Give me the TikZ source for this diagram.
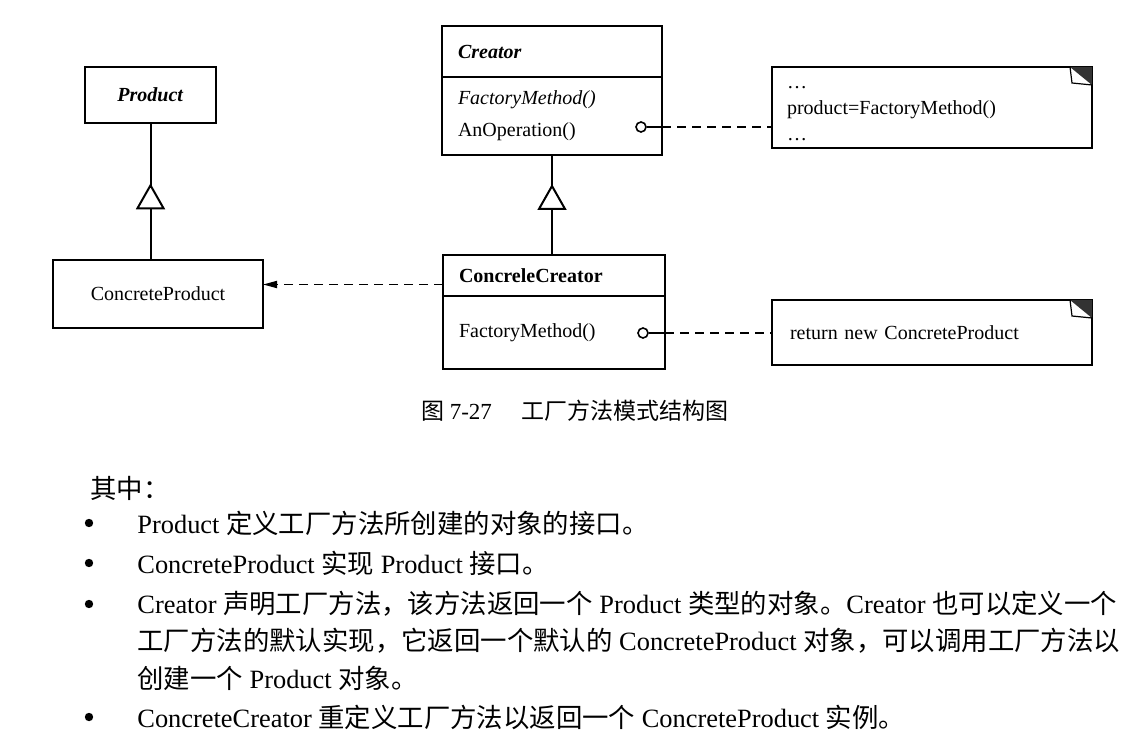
\documentclass[tikz,border=0pt]{standalone}
\usepackage{fontspec}
\setmainfont{Liberation Serif}
\newfontfamily\cjk{Noto Sans CJK SC}
\usetikzlibrary{arrows.meta,positioning,decorations.markings}
\newcommand\zh[1]{{\cjk #1}}

\begin{document}
\begin{tikzpicture}[x=0.5pt,y=-0.5pt,font=\fontsize{10pt}{12pt}\selectfont,
    box/.style={draw,line width=1pt,inner sep=0pt,outer sep=0pt},
    part/.style={box,anchor=north west,align=left,inner xsep=8pt},
    hook/.style={circle,draw,line width=0.8pt,inner sep=0pt,minimum size=5pt},
    dep/.style={line width=0.9pt,dash pattern=on 4.5pt off 3pt},
    isa/.style={line width=1pt,postaction={decorate},decoration={markings,
        mark=at position #1 with {\arrow{Triangle[length=13pt,width=14.5pt,fill=white,line width=1pt]}}}},
    body/.style={anchor=west,inner sep=0pt,font=\fontsize{13.2pt}{16pt}\selectfont},
    dot/.style={circle,fill,inner sep=0pt,minimum size=4.2pt}]
\useasboundingbox (0,0) rectangle (1144,737);

% classes
\node[box,minimum width=65.5pt,minimum height=28pt] (prod) at (150.5,95) {\textbf{\textit{Product}}};
\node[box,minimum width=105pt,minimum height=34pt] (cprod) at (158,294) {ConcreteProduct};

\node[part,text width=94pt,minimum height=25.5pt] (creator) at (442,26) {\textbf{\textit{Creator}}};
\node[part,text width=94pt,minimum height=39pt] (creatorops) at (creator.south west)
    {\textit{FactoryMethod()}\\[4pt]AnOperation()};
\node[part,text width=95pt,minimum height=20.5pt] (ccname) at (443,255) {\textbf{ConcreleCreator}};
\node[part,text width=95pt,minimum height=36.5pt] (ccops) at (ccname.south west) {FactoryMethod()};

% notes
\node[box,anchor=north west,align=left,inner xsep=7.5pt,text width=145pt,minimum height=40.5pt] (note1) at (772,67)
    {\rule{0pt}{11pt}\ldots\\[1pt]product=FactoryMethod()\strut\\[1pt]\ldots\strut};
\node[box,anchor=north west,align=left,inner xsep=9pt,text width=142pt,minimum height=32.5pt] (note2) at (772,300)
    {return new ConcreteProduct};
\foreach \n in {note1,note2} {
  \fill[black!80] ([xshift=-11pt]\n.north east) -- (\n.north east) -- ([yshift=-9pt]\n.north east) -- cycle;
  \draw[line width=0.6pt] ([xshift=-11pt]\n.north east) -- ([xshift=-10pt,yshift=-8pt]\n.north east)
      -- ([yshift=-9pt]\n.north east);
}

% inheritance
\draw[isa=0.56] (prod.south |- cprod.north) -- (prod.south);
\draw[isa=0.71] (creatorops.south |- ccname.north) -- (creatorops.south);

% creates
\draw[dep,-{Triangle[length=7pt,width=3.5pt]}] ([yshift=-4.5pt]ccname.west) -- ([yshift=-4.5pt]ccname.west -| cprod.east);

% note links
\node[hook] (hook1) at (641,127) {};
\node[hook] (hook2) at (643,333) {};
\draw[line width=0.9pt] (hook1.east) -- (hook1.east -| creatorops.east);
\draw[dep] (hook1 -| creatorops.east) -- (hook1 -| note1.west);
\draw[line width=0.9pt] (hook2.east) -- (hook2.east -| ccops.east);
\draw[dep] (hook2 -| ccops.east) -- (hook2 -| note2.west);

% caption
\node[font=\fontsize{11.5pt}{14pt}\selectfont] (caption) at (575,411)
    {\zh{图} 7-27\hspace{15pt}\zh{工厂方法模式结构图}};

% text
\node[body] (intro) at (90,488) {\zh{其中：}};
\foreach \y/\n in {523/1,563/2,604/3,717/4}
  \node[dot] (dot\n) at (89,\y) {};
\node[body] (line1) at (137,523) {Product \zh{定义工厂方法所创建的对象的接口。}};
\node[body] (line2) at (137,563) {ConcreteProduct \zh{实现} Product \zh{接口。}};
\node[body] (line3) at (137,604) {Creator \zh{声明工厂方法，该方法返回一个} Product \zh{类型的对象。}Creator \zh{也可以定义一个}};
\node[body] (line4) at (137,641) {\zh{工厂方法的默认实现，它返回一个默认的} ConcreteProduct \zh{对象，可以调用工厂方法以}};
\node[body] (line5) at (137,678) {\zh{创建一个} Product \zh{对象。}};
\node[body] (line6) at (137,717) {ConcreteCreator \zh{重定义工厂方法以返回一个} ConcreteProduct \zh{实例。}};
\end{tikzpicture}
\end{document}
